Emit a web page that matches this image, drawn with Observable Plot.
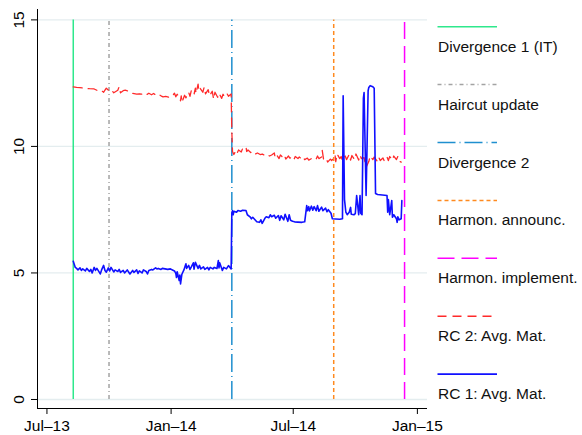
<!DOCTYPE html>
<html>
<head>
<meta charset="utf-8">
<script src="https://cdn.jsdelivr.net/npm/d3@7"></script>
<script src="https://cdn.jsdelivr.net/npm/@observablehq/plot@0.6"></script>
<style>
  html, body { margin: 0; padding: 0; background: #fff; }
  svg { display: block; }
</style>
</head>
<body>
<div id="chart"></div>
<script>
// RC 1: average maturity (solid blue)
const rc1Date = [
  "2013-08-09","2013-08-12","2013-08-14","2013-08-16","2013-08-19","2013-08-21","2013-08-23","2013-08-27","2013-08-29",
  "2013-09-02","2013-09-04","2013-09-06","2013-09-09","2013-09-11","2013-09-13","2013-09-16","2013-09-18","2013-09-20",
  "2013-09-23","2013-09-25","2013-09-27","2013-09-30","2013-10-02","2013-10-04","2013-10-08","2013-10-10","2013-10-14",
  "2013-10-16","2013-10-18","2013-10-22","2013-10-24","2013-10-28","2013-10-30","2013-11-01","2013-11-05","2013-11-07",
  "2013-11-11","2013-11-13","2013-11-15","2013-11-19","2013-11-21","2013-11-25","2013-11-27","2013-11-29","2013-12-03",
  "2013-12-05","2013-12-09","2013-12-11","2013-12-13","2013-12-17","2013-12-19","2013-12-23","2013-12-27","2013-12-31",
  "2014-01-03","2014-01-06","2014-01-08","2014-01-09","2014-01-10","2014-01-13","2014-01-14","2014-01-15","2014-01-17",
  "2014-01-20","2014-01-22","2014-01-23","2014-01-24","2014-01-27","2014-01-29","2014-01-31","2014-02-03","2014-02-04",
  "2014-02-06","2014-02-10","2014-02-12","2014-02-14","2014-02-18","2014-02-20","2014-02-24","2014-02-26","2014-02-28",
  "2014-03-04","2014-03-06","2014-03-10","2014-03-12","2014-03-13","2014-03-14","2014-03-18","2014-03-20","2014-03-24",
  "2014-03-27","2014-03-31","2014-04-01","2014-04-02","2014-04-03","2014-04-04","2014-04-08","2014-04-10","2014-04-14",
  "2014-04-17","2014-04-22","2014-04-24","2014-04-28","2014-04-30","2014-05-02","2014-05-06","2014-05-08","2014-05-12",
  "2014-05-14","2014-05-16","2014-05-20","2014-05-22","2014-05-26","2014-05-28","2014-05-30","2014-06-03","2014-06-05",
  "2014-06-09","2014-06-11","2014-06-13","2014-06-17","2014-06-19","2014-06-23","2014-06-25","2014-06-27","2014-06-30",
  "2014-07-03","2014-07-08","2014-07-14","2014-07-18","2014-07-21","2014-07-22","2014-07-24","2014-07-25","2014-07-28",
  "2014-07-30","2014-08-01","2014-08-04","2014-08-06","2014-08-08","2014-08-12","2014-08-14","2014-08-18","2014-08-20",
  "2014-08-22","2014-08-26","2014-08-28","2014-09-02","2014-09-08","2014-09-12","2014-09-13","2014-09-15","2014-09-17",
  "2014-09-19","2014-09-22","2014-09-24","2014-09-25","2014-09-29","2014-10-01","2014-10-03","2014-10-06","2014-10-08",
  "2014-10-09","2014-10-11","2014-10-13","2014-10-14","2014-10-17","2014-10-20","2014-10-21","2014-10-23","2014-10-27",
  "2014-10-29","2014-10-31","2014-11-03","2014-11-10","2014-11-17","2014-11-18","2014-11-19","2014-11-21","2014-11-24",
  "2014-11-25","2014-11-27","2014-12-01","2014-12-02","2014-12-03","2014-12-05","2014-12-08","2014-12-09"
];
const rc1Value = [
  5.46,5.22,5.18,5.12,5.20,5.10,5.16,5.08,5.18,
  5.06,5.14,5.00,5.22,5.10,5.18,5.05,4.96,5.12,
  5.30,5.10,5.03,5.20,5.08,5.22,5.04,5.12,5.06,
  5.14,5.02,5.10,5.00,5.12,5.04,4.96,5.10,5.02,
  5.12,4.98,5.08,5.00,5.12,5.06,4.96,5.10,5.14,
  5.12,5.20,5.16,5.18,5.14,5.18,5.16,5.14,5.16,
  5.12,5.08,4.98,4.82,5.05,4.70,4.92,4.57,4.95,
  5.12,5.28,5.36,5.18,5.30,5.14,5.24,5.40,5.15,
  5.42,5.18,5.30,5.16,5.24,5.14,5.22,5.12,5.22,
  5.16,5.22,5.18,5.49,5.20,5.40,5.10,5.22,5.16,
  5.29,5.16,7.38,7.46,7.30,7.44,7.40,7.47,7.44,
  7.48,7.47,7.30,7.22,7.14,7.20,7.08,7.02,7.00,
  7.10,6.96,7.16,7.22,7.18,7.30,7.22,7.28,7.16,
  7.27,7.08,7.26,7.10,7.32,7.04,7.30,7.08,7.04,
  7.02,7.01,7.00,7.02,7.66,7.46,7.62,7.45,7.64,
  7.48,7.62,7.46,7.66,7.44,7.60,7.46,7.56,7.42,
  7.50,7.36,7.14,7.13,7.12,7.14,12.00,7.90,7.40,
  7.30,7.40,7.59,7.32,7.30,7.34,8.06,7.30,8.06,
  7.36,7.30,11.90,12.13,8.06,12.20,12.33,12.40,12.36,
  12.30,8.14,8.10,8.08,8.06,7.40,7.90,7.30,7.86,
  7.20,7.30,7.14,7.00,7.22,7.10,7.14,7.86
];

// RC 2: average maturity (dashed red)
const rc2Date = [
  "2013-08-09","2013-08-14","2013-08-19","2013-08-26","2013-09-02","2013-09-09","2013-09-16","2013-09-20","2013-09-23",
  "2013-09-25","2013-09-27","2013-10-01","2013-10-04","2013-10-08","2013-10-14","2013-10-16","2013-10-18","2013-10-22",
  "2013-10-25","2013-10-31","2013-11-05","2013-11-11","2013-11-15","2013-11-19","2013-11-22","2013-11-26","2013-11-29",
  "2013-12-03","2013-12-06","2013-12-10","2013-12-13","2013-12-17","2013-12-20","2013-12-24","2013-12-30","2014-01-03",
  "2014-01-06","2014-01-08","2014-01-10","2014-01-14","2014-01-15","2014-01-16","2014-01-17","2014-01-21","2014-01-23",
  "2014-01-27","2014-01-29","2014-01-31","2014-02-04","2014-02-06","2014-02-07","2014-02-10","2014-02-11","2014-02-13",
  "2014-02-17","2014-02-19","2014-02-21","2014-02-25","2014-02-27","2014-03-03","2014-03-05","2014-03-07","2014-03-11",
  "2014-03-13","2014-03-17","2014-03-19","2014-03-21","2014-03-25","2014-03-27","2014-03-31","2014-04-01","2014-04-02",
  "2014-04-04","2014-04-07","2014-04-09","2014-04-11","2014-04-15","2014-04-17","2014-04-22","2014-04-23","2014-04-25",
  "2014-04-29","2014-05-02","2014-05-06","2014-05-09","2014-05-13","2014-05-16","2014-05-20","2014-05-23","2014-05-27",
  "2014-05-30","2014-06-03","2014-06-04","2014-06-06","2014-06-10","2014-06-12","2014-06-16","2014-06-18","2014-06-20",
  "2014-06-24","2014-06-26","2014-06-30","2014-07-02","2014-07-04","2014-07-08","2014-07-10","2014-07-14","2014-07-16",
  "2014-07-18","2014-07-22","2014-07-24","2014-07-28","2014-07-31","2014-08-04","2014-08-06","2014-08-08","2014-08-12",
  "2014-08-13","2014-08-15","2014-08-19","2014-08-21","2014-08-25","2014-08-27","2014-09-01","2014-09-02","2014-09-04",
  "2014-09-08","2014-09-10","2014-09-12","2014-09-16","2014-09-18","2014-09-22","2014-09-24","2014-09-26","2014-09-30",
  "2014-10-02","2014-10-06","2014-10-08","2014-10-10","2014-10-14","2014-10-17","2014-10-21","2014-10-23","2014-10-27",
  "2014-10-29","2014-11-03","2014-11-05","2014-11-07","2014-11-11","2014-11-13","2014-11-17","2014-11-19","2014-11-21",
  "2014-11-25","2014-11-27","2014-12-01","2014-12-03","2014-12-05","2014-12-08"
];
const rc2Value = [
  12.35,12.33,12.32,12.30,12.28,12.27,12.18,12.20,12.14,
  12.22,12.30,12.20,12.24,12.12,12.22,12.36,12.12,12.20,
  12.22,12.18,12.10,12.07,12.08,12.06,12.10,12.05,12.10,
  12.04,12.09,12.02,12.06,12.00,11.96,11.98,11.94,12.00,
  12.10,11.96,12.06,11.90,11.80,12.00,11.74,12.02,11.92,
  12.14,11.98,12.22,12.06,12.30,12.10,12.46,12.20,12.30,
  12.14,12.34,12.08,12.24,12.00,12.18,11.87,12.14,11.94,
  12.10,11.90,12.06,11.96,12.08,11.98,12.07,10.60,9.80,
  9.68,9.84,9.74,9.86,9.78,9.92,9.98,9.80,9.86,
  9.76,9.80,9.70,9.74,9.68,9.70,9.64,9.68,9.62,
  9.66,9.74,9.58,9.68,9.52,9.66,9.56,9.64,9.50,
  9.62,9.54,9.58,9.48,9.60,9.52,9.58,9.50,9.56,
  9.48,9.54,9.46,9.52,9.56,9.50,9.62,9.52,9.58,
  9.84,9.48,9.52,9.38,9.50,9.44,9.66,9.40,9.70,
  9.52,9.60,9.44,9.62,9.48,9.68,9.46,9.64,9.48,
  9.70,9.46,9.66,9.52,9.56,9.17,9.40,9.62,9.48,
  9.58,9.40,9.56,9.44,9.54,9.42,9.58,9.44,9.60,
  9.46,9.62,9.48,9.60,9.42,9.38
];

// Event markers (vertical lines)
const eventName  = ["Divergence 1 (IT)", "Haircut update", "Divergence 2", "Harmon. announc.", "Harmon. implement."];
const eventDate  = ["2013-08-09", "2013-10-01", "2014-04-01", "2014-08-30", "2014-12-13"];
const eventColor = ["#2ee88c", "#a3a3a3", "#1f8fcf", "#ff8a1f", "#ff00ff"];
const eventDash  = [null, "4 3 1 3", "18 4 1 4", "4 3", "17 7"];

// Series styles
const seriesName  = ["RC 2: Avg. Mat.", "RC 1: Avg. Mat."];
const seriesColor = ["#ff2a2a", "#1010ff"];
const seriesDash  = ["9 6", null];

// Axes
const xTickDates = ["2013-07-01", "2014-01-01", "2014-07-01", "2015-01-01"];
const yTickValues = [0, 5, 10, 15];
const xDomain = ["2013-06-17", "2015-01-16"];
const yDomain = [-0.356, 15.41];

const parse = d3.utcParse("%Y-%m-%d");
const rc1 = rc1Date.map((d, i) => ({date: parse(d), value: rc1Value[i]}));
const rc2 = rc2Date.map((d, i) => ({date: parse(d), value: rc2Value[i]}));
const events = eventDate.map((d, i) => ({date: parse(d), name: eventName[i], color: eventColor[i], dash: eventDash[i]}));
const xTicks = xTickDates.map(parse);
const xMin = parse(xDomain[0]), xMax = parse(xDomain[1]);
const fmtMon = d3.utcFormat("%b"), fmtYr = d3.utcFormat("%y");

const font = "'Liberation Sans', Arial, Helvetica, sans-serif";

const plot = Plot.plot({
  width: 582,
  height: 435,
  marginLeft: 37,
  marginRight: 155,
  marginTop: 9,
  marginBottom: 27,
  style: {fontFamily: font, fontSize: "15.5px", color: "#000", background: "#fff", overflow: "visible"},
  x: {type: "utc", domain: [xMin, xMax]},
  y: {domain: yDomain},
  marks: [
    Plot.gridY(yTickValues, {stroke: "#e4edef", strokeOpacity: 1, strokeWidth: 1.3}),
    Plot.ruleX([xMin], {stroke: "#000", strokeWidth: 1}),
    Plot.ruleY([yDomain[0]], {stroke: "#000", strokeWidth: 1}),
    Plot.axisX(xTicks, {
      tickSize: 6, tickPadding: 5, stroke: "#000", fill: "#000",
      tickFormat: d => fmtMon(d) + "\u2013" + fmtYr(d),
      label: null
    }),
    Plot.axisY(yTickValues, {
      tickSize: 6, tickPadding: 8, tickRotate: -90, stroke: "#000", fill: "#000",
      label: null
    }),
    ...events.map(e => Plot.ruleX([e], {
      x: "date", y1: 0, y2: 15,
      stroke: e.color, strokeWidth: 1.5,
      strokeDasharray: e.dash || undefined
    })),
    Plot.line(rc2, {x: "date", y: "value", stroke: seriesColor[0], strokeWidth: 1.3,
      strokeDasharray: seriesDash[0], curve: "linear"}),
    Plot.line(rc1, {x: "date", y: "value", stroke: seriesColor[1], strokeWidth: 1.6, curve: "linear"})
  ]
});

// Legend in the right-hand margin: sample line above each label
const legendItems = [
  ...events.map(e => ({name: e.name, color: e.color, dash: e.dash, width: 1.5})),
  {name: seriesName[0], color: seriesColor[0], dash: seriesDash[0], width: 1.5},
  {name: seriesName[1], color: seriesColor[1], dash: seriesDash[1], width: 1.6}
];
const svg = d3.select(plot);
const lg = svg.append("g")
  .attr("font-family", font)
  .attr("font-size", "15.5px")
  .attr("text-anchor", "start");
const top0 = 26.7, step = 57.9, lx0 = 437.5, lx1 = 497;
legendItems.forEach((it, i) => {
  const y = top0 + i * step;
  lg.append("line")
    .attr("x1", lx0).attr("x2", lx1).attr("y1", y).attr("y2", y)
    .attr("stroke", it.color).attr("stroke-width", it.width)
    .attr("stroke-dasharray", it.dash || null);
  lg.append("text")
    .attr("x", 438).attr("y", y + 25)
    .attr("text-anchor", "start")
    .attr("fill", "#111")
    .text(it.name);
});

document.getElementById("chart").appendChild(plot);
</script>
</body>
</html>
